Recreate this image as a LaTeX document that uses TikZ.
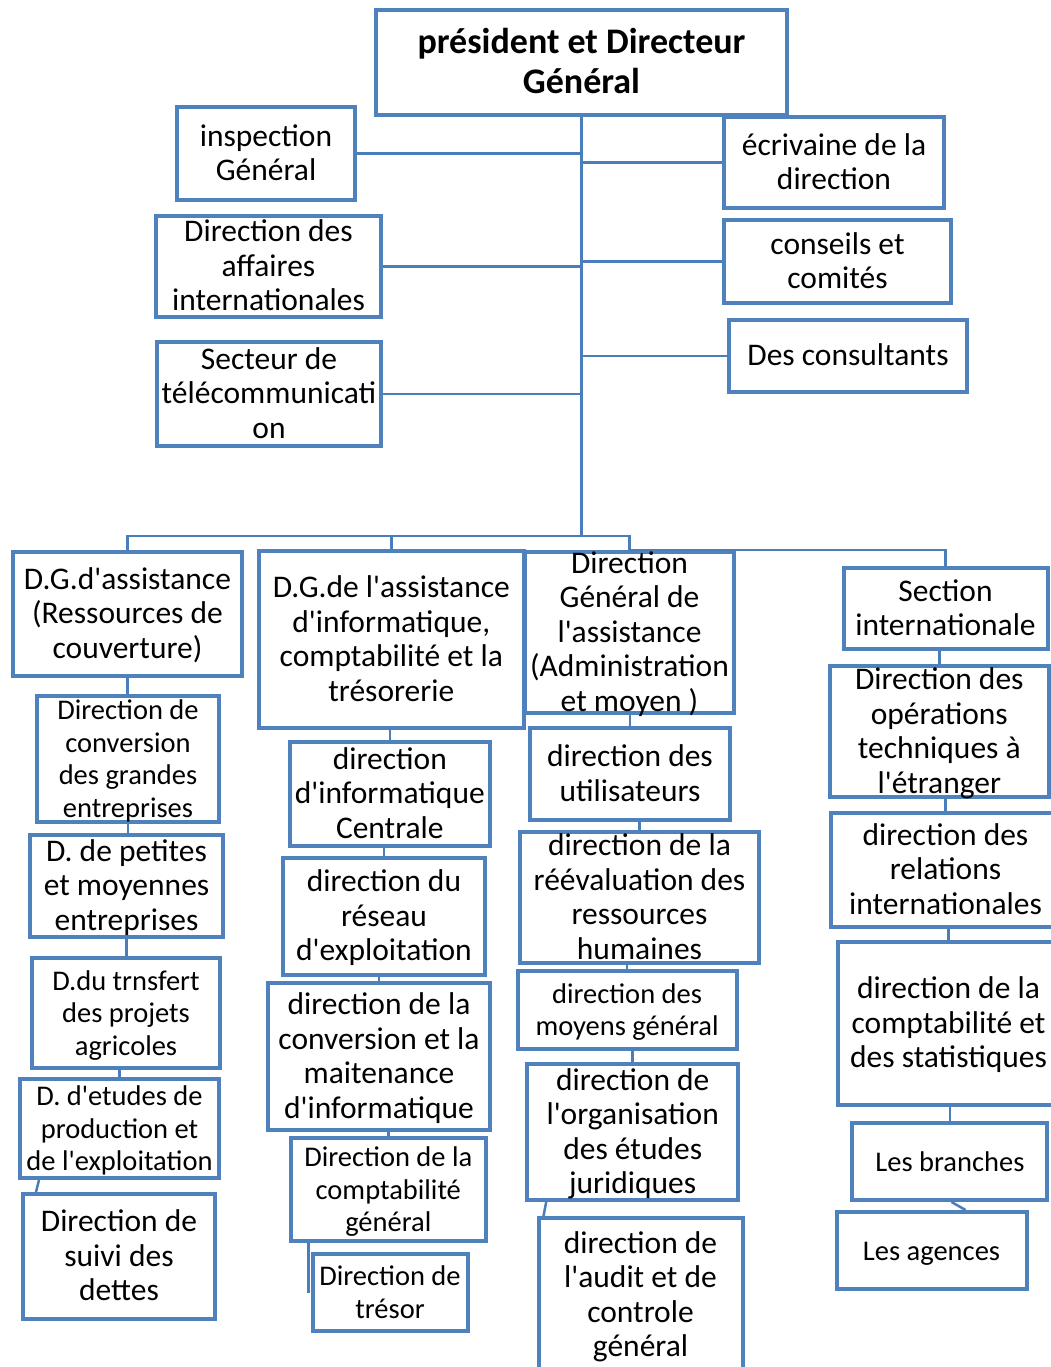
\documentclass[tikz,border=0pt]{standalone}
\usepackage{fontspec}
\setmainfont{Carlito}[Ligatures=TeXOff]
\usepackage{tikz}
\usetikzlibrary{calc}
\definecolor{BoxBlue}{RGB}{79,129,189}
\definecolor{LinkBlue}{RGB}{74,126,187}
\newcommand{\boxtxt}[1]{\makebox[0pt]{\raisebox{\dimexpr(\depth-\height)/2-3pt\relax}[0pt][0pt]{\begin{tabular}{@{}c@{}}#1\end{tabular}}}}

\begin{document}
\begin{tikzpicture}[
  x=1pt,y=-1pt,
  box/.style={rectangle,draw=BoxBlue,line width=4pt,fill=white,inner sep=0pt,font=\fontsize{31.5}{34.5}\selectfont},
  small/.style={font=\fontsize{28.5}{32.5}\selectfont},
  head/.style={font=\bfseries\fontsize{36}{40}\selectfont},
  wh/.style 2 args={minimum width=#1,minimum height=#2},
  link/.style={draw=LinkBlue,line width=2.5pt}
]
\useasboundingbox (0,0) rectangle (1051,1367);
% top level
\node[box,head,wh={411}{105}] (pdg) at (581.5,62.5) {\boxtxt{président et Directeur\\Général}};
\node[box,wh={178}{93}] (insp) at (266,153.5) {\boxtxt{inspection\\Général}};
\node[box,wh={225}{101}] (affint) at (268.5,266.5) {\boxtxt{Direction des\\affaires\\internationales}};
\node[box,wh={224}{104}] (telecom) at (269,394) {\boxtxt{Secteur de\\télécommunicati\\on}};
\node[box,wh={220}{91}] (ecriv) at (834,162.5) {\boxtxt{écrivaine de la\\direction}};
\node[box,wh={227}{83}] (conseil) at (837.5,261.5) {\boxtxt{conseils et\\comités}};
\node[box,wh={238}{72}] (consult) at (848,356) {\boxtxt{Des consultants}};
% column 1
\node[box,wh={229}{124}] (dg1) at (127.5,614) {\boxtxt{D.G.d'assistance\\(Ressources de\\couverture)}};
\node[box,small,wh={182}{126}] (conv) at (128,759) {\boxtxt{Direction de\\conversion\\des grandes\\entreprises}};
\node[box,wh={193}{102}] (pme) at (126.5,886) {\boxtxt{D. de petites\\et moyennes\\entreprises}};
\node[box,small,wh={188}{110}] (transf) at (126,1013) {\boxtxt{D.du trnsfert\\des projets\\agricoles}};
\node[box,small,wh={199}{99}] (etudes) at (119.5,1128.5) {\boxtxt{D. d'etudes de\\production et\\de l'exploitation}};
\node[box,wh={192}{125}] (dettes) at (119,1256.5) {\boxtxt{Direction de\\suivi des\\dettes}};
% column 2
\node[box,wh={265}{177}] (dg2) at (391.3,639.5) {\boxtxt{D.G.de l'assistance\\d'informatique,\\comptabilité et la\\trésorerie}};
\node[box,wh={200}{104}] (dinfo) at (389.8,794) {\boxtxt{direction\\d'informatique\\Centrale}};
\node[box,wh={202}{117}] (reseau) at (384,916.5) {\boxtxt{direction du\\réseau\\d'exploitation}};
\node[box,wh={222}{147}] (maint) at (379,1056.5) {\boxtxt{direction de la\\conversion et la\\maitenance\\d'informatique}};
\node[box,small,wh={195}{103}] (compta) at (388.3,1189.5) {\boxtxt{Direction de la\\comptabilité\\général}};
\node[box,small,wh={155}{77}] (tresor) at (390,1292.5) {\boxtxt{Direction de\\trésor}};
% column 3
\node[box,wh={209}{161}] (dg3) at (629.5,632.5) {\boxtxt{Direction\\Général de\\l'assistance\\(Administration\\et moyen )}};
\node[box,wh={200}{92}] (util) at (630,774) {\boxtxt{direction des\\utilisateurs}};
\node[box,wh={239}{131}] (reeval) at (639.5,897.5) {\boxtxt{direction de la\\réévaluation des\\ressources\\humaines}};
\node[box,small,wh={219}{78}] (moyens) at (627,1010) {\boxtxt{direction des\\moyens général}};
\node[box,wh={211}{136}] (organ) at (632.7,1132) {\boxtxt{direction de\\l'organisation\\des études\\juridiques}};
\node[box,wh={204}{154}] (audit) at (640.5,1295) {\boxtxt{direction de\\l'audit et de\\controle\\général}};
% column 4
\node[box,wh={204}{81}] (sect) at (945.5,608.5) {\boxtxt{Section\\internationale}};
\node[box,wh={219}{131}] (oper) at (939.3,731.5) {\boxtxt{Direction des\\opérations\\techniques à\\l'étranger}};
\node[box,wh={229}{114}] (relat) at (945.5,870) {\boxtxt{direction des\\relations\\internationales}};
\node[box,wh={221}{163}] (comptab) at (948.5,1023.5) {\boxtxt{direction de la\\comptabilité et\\des statistiques}};
\node[box,small,wh={195}{77}] (branch) at (949.9,1161.5) {\boxtxt{Les branches}};
\node[box,small,wh={190}{77}] (agence) at (931.5,1250.5) {\boxtxt{Les agences}};
% links
\coordinate (bus) at (581.5,536);
\coordinate (tr) at ($(tresor.west)+(-2,0)$);
\draw[link] (pdg.south) -- (bus);
\draw[link] (insp.east) -- (insp.east -| pdg.south);
\draw[link] (affint.east) -- (affint.east -| pdg.south);
\draw[link] (telecom.east) -- (telecom.east -| pdg.south);
\draw[link] (ecriv.west) -- (ecriv.west -| pdg.south);
\draw[link] (conseil.west) -- (conseil.west -| pdg.south);
\draw[link] (consult.west) -- (consult.west -| pdg.south);
\draw[link] (bus) -| (dg1.north);
\draw[link] (bus) -| (dg2.north);
\draw[link] (bus) -| (dg3.north);
\draw[link] (dg3.north) -| (sect.north);
\draw[link] (dg1.south) -- (dg1.south |- conv.north);
\draw[link] (conv.south) -- (conv.south |- pme.north);
\draw[link] (pme.south) -- (pme.south |- transf.north);
\draw[link] (etudes.north |- transf.south) -- (etudes.north);
\draw[link] ($(etudes.south west)+(21,0)$) -- ($(dettes.north west)+(15,0)$);
\draw[link] (dinfo.north |- dg2.south) -- (dinfo.north);
\draw[link] (reseau.north |- dinfo.south) -- (reseau.north);
\draw[link] (maint.north |- reseau.south) -- (maint.north);
\draw[link] (compta.north |- maint.south) -- (compta.north);
\draw[link] (tr |- compta.south) -- (tr);
\draw[link] (util.north |- dg3.south) -- (util.north);
\draw[link] (reeval.north |- util.south) -- (reeval.north);
\draw[link] (moyens.north |- reeval.south) -- (moyens.north);
\draw[link] (organ.north |- moyens.south) -- (organ.north);
\draw[link] ($(organ.south west)+(21,0)$) -- ($(audit.north west)+(7,0)$);
\draw[link] (oper.north |- sect.south) -- (oper.north);
\draw[link] (relat.north |- oper.south) -- (relat.north);
\draw[link] (comptab.north |- relat.south) -- (comptab.north);
\draw[link] (branch.north |- comptab.south) -- (branch.north);
\draw[link] ($(branch.south)+(1.6,0)$) -- ($(agence.north)+(34,0)$);
\end{tikzpicture}
\end{document}
